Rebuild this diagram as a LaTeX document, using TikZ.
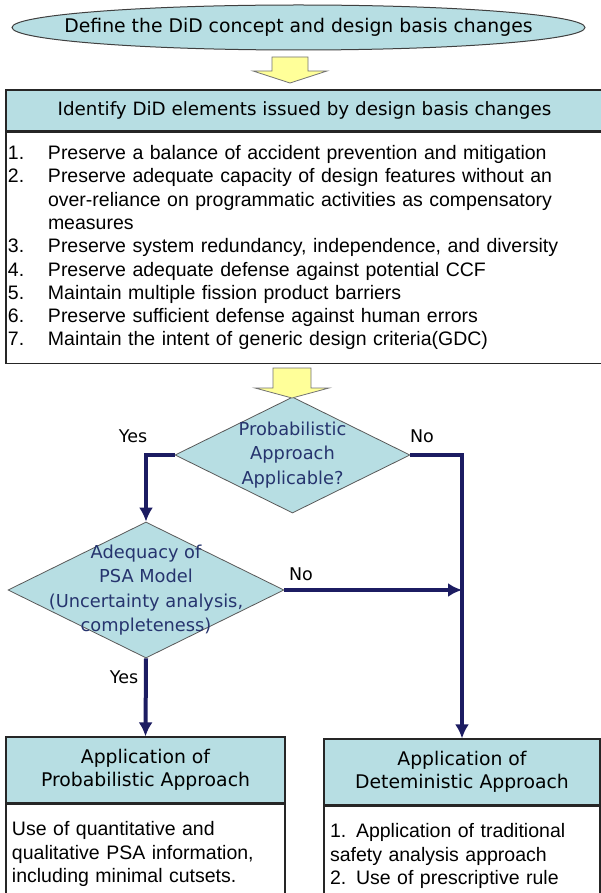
\documentclass[tikz,border=0pt]{standalone}
\usepackage{fontspec}
\setmainfont{Liberation Sans}
\newfontfamily\tahoma{DejaVu Sans}
\usepackage{tikz}
\usetikzlibrary{arrows.meta,shapes.geometric}
\definecolor{boxblue}{RGB}{183,222,227}
\definecolor{linenavy}{RGB}{28,28,98}
\definecolor{textnavy}{RGB}{38,52,110}
\definecolor{arrowyellow}{RGB}{255,255,153}

\tikzset{
  headbox/.style={rectangle, draw=black!85, line width=1.2pt, fill=boxblue, inner sep=0pt, align=center},
  bodybox/.style={rectangle, draw=black!85, line width=1.2pt, fill=white, inner sep=0pt, align=left, font=\fontsize{19.5}{23.3}\selectfont},
  decision/.style={diamond, aspect=2, draw=black!65, line width=0.8pt, fill=boxblue, inner sep=-22pt, text=textnavy, align=center, font=\tahoma\fontsize{17.8}{24.5}\selectfont},
  flow/.style={draw=linenavy, line width=4pt, ->, >={Latex[length=14pt,width=14pt]}},
  yarrow/.style={draw=black!55, fill=arrowyellow, line width=0.8pt},
  answer/.style={inner sep=0pt, font=\tahoma\fontsize{17.5}{20}\selectfont}
}

\begin{document}
\begin{tikzpicture}[x=1pt,y=-1pt]
\useasboundingbox (0,0) rectangle (601,893);
\clip (0,0) rectangle (601,893);
\fill[white] (0,0) rectangle (601,893);
%\draw [help lines, step=50] (0,0) grid (601,893);
\node[ellipse, draw=black!75, line width=1pt, fill=boxblue, minimum width=573pt, minimum height=45pt, inner xsep=-40pt, inner ysep=2pt, font=\tahoma\fontsize{18.8}{20}\selectfont] (A) at (298.5,27.5) {Define the DiD concept and design basis changes};
\node[headbox, minimum width=597pt, minimum height=41pt, font=\tahoma\fontsize{18.3}{20}\selectfont] (B) at (304.5,110.5) {Identify DiD elements issued by design basis changes};
\node[bodybox, anchor=north, minimum width=597pt, minimum height=231pt, text width=593pt] (C) at (B.south) {%
\makebox[40pt][l]{1.}Preserve a balance of accident prevention and mitigation\\
\makebox[40pt][l]{2.}Preserve adequate capacity of design features without an\\
\hspace*{40pt}over-reliance on programmatic activities as compensatory\\
\hspace*{40pt}measures\\
\makebox[40pt][l]{3.}Preserve system redundancy, independence, and diversity\\
\makebox[40pt][l]{4.}Preserve adequate defense against potential CCF\\
\makebox[40pt][l]{5.}Maintain multiple fission product barriers\\
\makebox[40pt][l]{6.}Preserve sufficient defense against human errors\\
\makebox[40pt][l]{7.}Maintain the intent of generic design criteria(GDC)};
\node[decision, minimum width=235pt, minimum height=116pt] (D) at (292.5,455) {Probabilistic\\Approach\\Applicable?};
\node[decision, minimum width=276pt, minimum height=136pt] (E) at (146,590) {Adequacy of\\PSA Model\\(Uncertainty analysis,\\completeness)};
\node[headbox, minimum width=279pt, minimum height=66pt, font=\tahoma\fontsize{18.8}{23}\selectfont] (F) at (145.5,770) {Application of\\Probabilistic Approach};
\node[bodybox, anchor=north, minimum width=279pt, minimum height=100pt, text width=267pt] (G) at (F.south) {Use of quantitative and\\qualitative PSA information,\\including minimal cutsets.};
\node[headbox, minimum width=276pt, minimum height=66pt, font=\tahoma\fontsize{18.8}{23}\selectfont] (H) at (462,772) {Application of\\Deteministic Approach};
\node[bodybox, anchor=north, minimum width=276pt, minimum height=100pt, text width=264pt] (I) at (H.south) {1. Application of traditional\\safety analysis approach\\2. Use of prescriptive rule};
\node[answer] (N) at (133,436) {Yes};
\node[answer] (O) at (422,436) {No};
\node[answer] (R) at (301,574) {No};
\node[answer] (S) at (124,677) {Yes};
\coordinate (J) at (290,57);
\coordinate (K) at (292,368);

\draw[yarrow] (J) ++(-18,0) -- ++(36,0) -- ++(0,14) -- ++(19,0) -- ++(-37,12) -- ++(-37,-12) -- ++(19,0) -- cycle;
\draw[yarrow] (K) ++(-19,0) -- ++(38,0) -- ++(0,20) -- ++(18,0) -- ++(-37,10) -- ++(-37,-10) -- ++(18,0) -- cycle;
\draw[flow] (D.west) -| (E.north);
\draw[flow] (D.east) -| (H.north);
\draw[flow] (E.east) -- (E.east -| H.north);
\draw[flow] (E.south) -- (F.north);

\end{tikzpicture}
\end{document}
